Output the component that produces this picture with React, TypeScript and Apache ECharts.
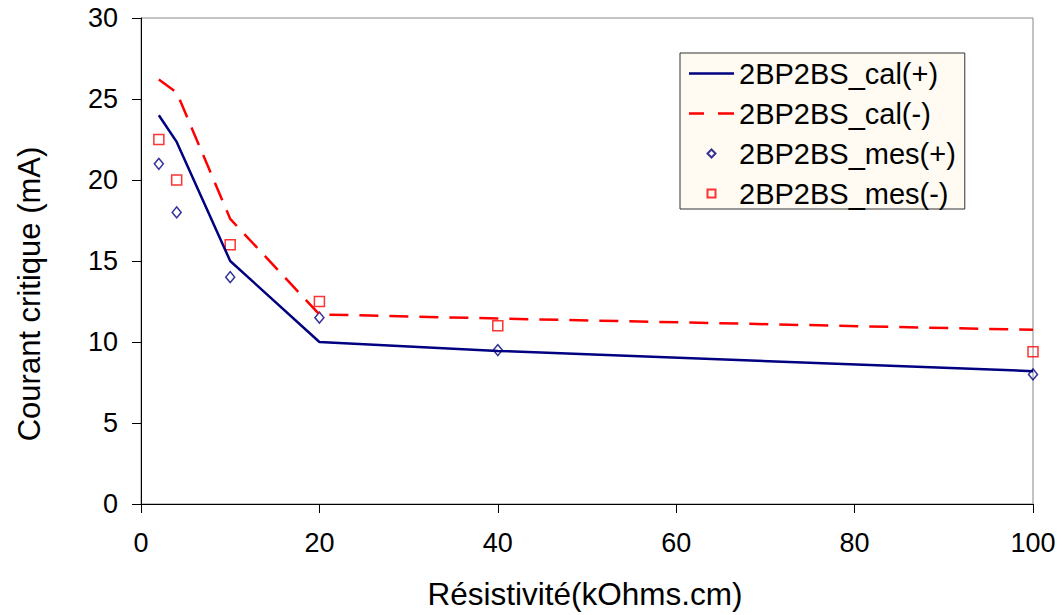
import React, { useEffect, useRef } from "react";
import * as echarts from "echarts";

const xCal = [2, 4, 10, 20, 40, 100];
const calPlus = [24.0, 22.35, 15.0, 10.0, 9.45, 8.2];
const calMinus = [26.2, 25.4, 17.6, 11.7, 11.45, 10.75];
const mesPlus = [21.0, 18.0, 14.0, 11.5, 9.5, 8.0];
const mesMinus = [22.5, 20.0, 16.0, 12.5, 11.0, 9.4];
const seriesNames = ["2BP2BS_cal(+)", "2BP2BS_cal(-)", "2BP2BS_mes(+)", "2BP2BS_mes(-)"];
const xTitle = "Résistivité(kOhms.cm)";
const yTitle = "Courant critique (mA)";

const pairs = (xs: number[], ys: number[]) => xs.map((x, i) => [x, ys[i]]);

export default function App() {
  const ref = useRef<HTMLDivElement>(null);
  useEffect(() => {
    const chart = echarts.init(ref.current!, null, { renderer: "svg" });
    const font = "Arial, 'Liberation Sans', sans-serif";
    chart.setOption({
      animation: false,
      backgroundColor: "#ffffff",
      textStyle: { fontFamily: font },
      grid: {
        left: 141,
        right: 30,
        top: 18,
        bottom: 111,
        show: true,
        borderColor: "#888888",
        borderWidth: 1,
        backgroundColor: "transparent",
      },
      legend: {
        orient: "vertical",
        left: 680,
        top: 53,
        itemGap: 11,
        itemWidth: 45,
        itemHeight: 14,
        itemTextGap: 6,
        padding: [6, 9, 1, 8],
        backgroundColor: "#FFFBF2",
        borderColor: "#333333",
        borderWidth: 1,
        borderRadius: 0,
        textStyle: { fontSize: 29, lineHeight: 28.5, color: "#000", fontFamily: font },
        data: [
          { name: seriesNames[0], icon: "path://M0,0 L45,0 L45,2.5 L0,2.5 Z M0,-5.75 M45,8.25" },
          { name: seriesNames[1], icon: "path://M0,0 L15,0 L15,2.5 L0,2.5 Z M29,0 L45,0 L45,2.5 L29,2.5 Z M0,-5.75 M45,8.25" },
          { name: seriesNames[2], icon: "path://M0,0 M45,14 M22.5,3 L26.5,7 L22.5,11 L18.5,7 Z" },
          { name: seriesNames[3], icon: "path://M0,0 M45,14 M18.5,3 L26.5,3 L26.5,11 L18.5,11 Z" },
        ],
      },
      xAxis: {
        type: "value",
        min: 0,
        max: 100,
        interval: 20,
        axisLine: { show: true, lineStyle: { color: "#000", width: 1 } },
        axisTick: { show: true, inside: false, length: 9, lineStyle: { color: "#000" } },
        axisLabel: { fontSize: 27, color: "#000", margin: 25, fontFamily: font },
        splitLine: { show: false },
      },
      yAxis: {
        type: "value",
        min: 0,
        max: 30,
        interval: 5,
        axisLine: { show: true, lineStyle: { color: "#000", width: 1 } },
        axisTick: { show: true, inside: false, length: 9, lineStyle: { color: "#000" } },
        axisLabel: { fontSize: 27, color: "#000", margin: 23, fontFamily: font },
        splitLine: { show: false },
      },
      graphic: [
        {
          type: "text",
          x: 585,
          y: 610,
          style: {
            text: xTitle,
            fontSize: 31.5,
            fontFamily: font,
            fill: "#000",
            textAlign: "center",
            textVerticalAlign: "bottom",
          },
        },
        {
          type: "text",
          x: 29,
          y: 294,
          rotation: Math.PI / 2,
          style: {
            text: yTitle,
            fontSize: 31,
            fontFamily: font,
            fill: "#000",
            textAlign: "center",
            textVerticalAlign: "middle",
          },
        },
      ],
      series: [
        {
          name: seriesNames[0],
          type: "line",
          data: pairs(xCal, calPlus),
          showSymbol: false,
          symbol: "none",
          itemStyle: { color: "#000080" },
          lineStyle: { color: "#000080", width: 2.5 },
        },
        {
          name: seriesNames[1],
          type: "line",
          data: pairs(xCal, calMinus),
          showSymbol: false,
          symbol: "none",
          itemStyle: { color: "#FF0000" },
          lineStyle: { color: "#FF0000", width: 2.5, type: [19, 11] },
        },
        {
          name: seriesNames[2],
          type: "scatter",
          data: pairs(xCal, mesPlus),
          symbol: "diamond",
          symbolSize: [9, 11],
          itemStyle: { color: "transparent", borderColor: "#000080", borderWidth: 1.5 },
        },
        {
          name: seriesNames[3],
          type: "scatter",
          data: pairs(xCal, mesMinus),
          symbol: "rect",
          symbolSize: 10,
          itemStyle: { color: "transparent", borderColor: "#FF0000", borderWidth: 1.5 },
        },
      ],
    });
    return () => chart.dispose();
  }, []);
  return <div ref={ref} style={{ width: 1063, height: 615, position: "absolute", left: 0, top: 0 }} />;
}
